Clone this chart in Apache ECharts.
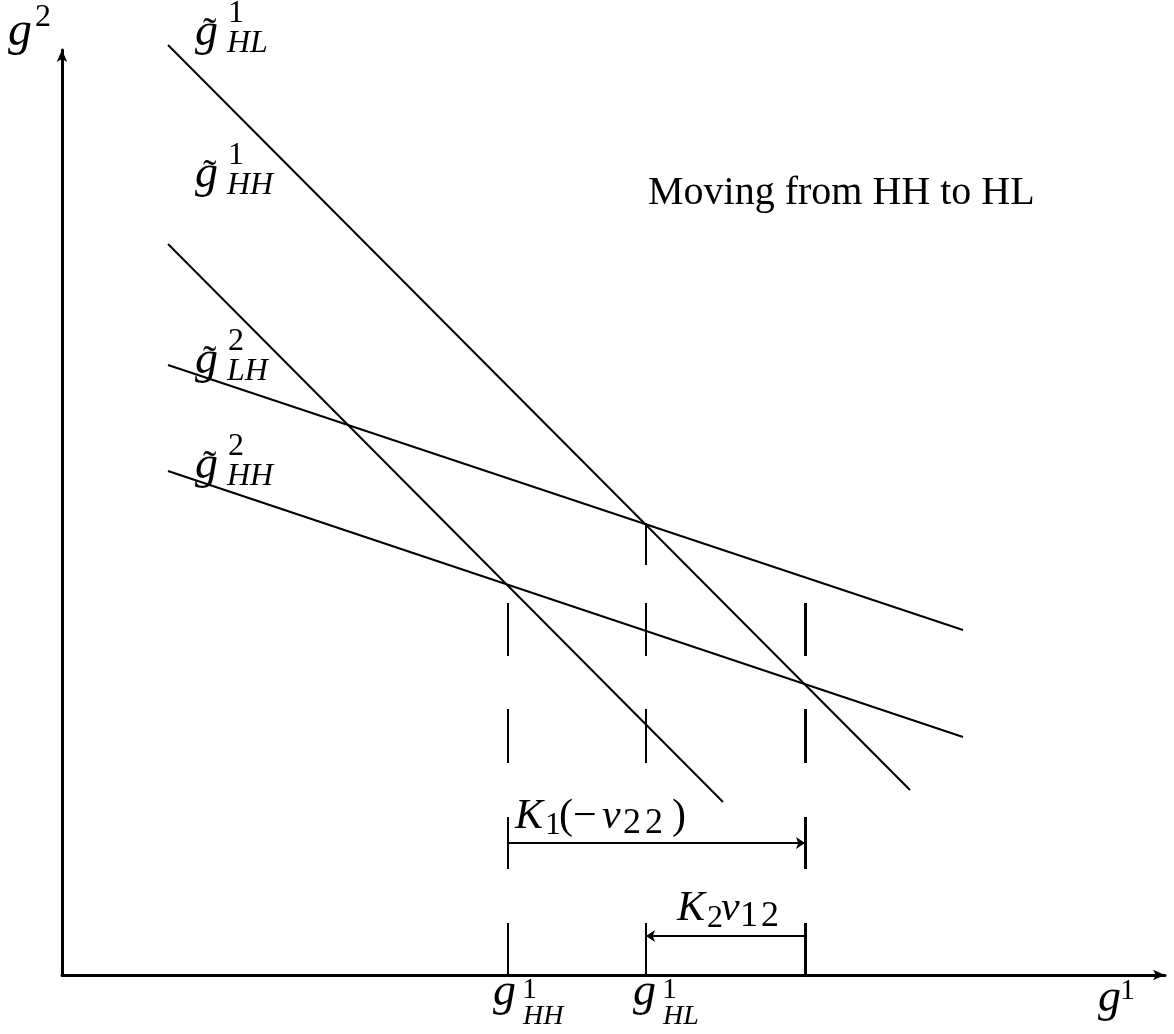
<!DOCTYPE html>
<html><head><meta charset="utf-8">
<script src="https://cdn.jsdelivr.net/npm/echarts@6/dist/echarts.min.js"></script>
<style>html,body{margin:0;padding:0;background:#fff}#c{width:1174px;height:1034px}</style>
</head><body><div id="c"></div>
<script>
// ---- data (units: g1 along x, g2 along y) ----
const curveNames = ['g~1 HL', 'g~1 HH', 'g~2 LH', 'g~2 HH'];
const curveX = [[1.06, 8.48], [1.06, 6.61], [1.06, 9.01], [1.06, 9.01]];
const curveY = [[9.30, 1.85], [7.31, 1.73], [6.10, 3.45], [5.04, 2.38]];

const guideX = [4.46, 5.84, 7.43];               // g1_HH, g1_HL, end of K1 bracket
const guideSegments = [
  [[3.72, 3.19], [2.66, 2.12], [1.58, 1.06], [0.52, 0]],
  [[4.52, 4.10], [3.72, 3.19], [2.66, 2.12], [0.52, 0]],
  [[3.72, 3.19], [2.66, 2.12], [1.58, 1.06], [0.52, 0]]
];
const arrowK1 = [[4.46, 1.32], [7.43, 1.32]];
const arrowK2 = [[7.43, 0.39], [5.84, 0.39]];

const xMax = 11.03, yMax = 9.25;

// ---- chart ----
const chart = echarts.init(document.getElementById('c'), null, {renderer: 'canvas'});
const black = '#000';
const series = [];
curveNames.forEach((n, i) => {
  series.push({
    name: n, type: 'line', clip: false, showSymbol: false, silent: true,
    data: [[curveX[i][0], curveY[i][0]], [curveX[i][1], curveY[i][1]]],
    lineStyle: {color: black, width: 2}
  });
});
const thinSegs = [], thickSegs = [];
guideX.forEach((x, i) => {
  guideSegments[i].forEach(s => {
    const seg = {coords: [[x, s[0]], [x, s[1]]]};
    if (i === 2) thickSegs.push(seg); else thinSegs.push(seg);
  });
});
series.push({type: 'lines', coordinateSystem: 'cartesian2d', silent: true, data: thinSegs,
  lineStyle: {color: black, width: 2, opacity: 1}, symbol: 'none'});
series.push({type: 'lines', coordinateSystem: 'cartesian2d', silent: true, data: thickSegs,
  lineStyle: {color: black, width: 3, opacity: 1}, symbol: 'none'});
series.push({type: 'lines', coordinateSystem: 'cartesian2d', silent: true,
  data: [{coords: arrowK1}, {coords: arrowK2}],
  lineStyle: {color: black, width: 2, opacity: 1},
  symbol: ['none', 'arrow'], symbolSize: 9});

chart.setOption({
  backgroundColor: '#fff',
  animation: false,
  grid: {left: 62, right: 1174 - 62 - 1103, top: 50, height: 925},
  xAxis: {type: 'value', min: 0, max: xMax,
    axisLine: {show: true, onZero: false, symbol: ['none', 'arrow'], symbolSize: [8, 12],
      lineStyle: {color: black, width: 3}},
    axisTick: {show: false}, axisLabel: {show: false}, splitLine: {show: false}},
  yAxis: {type: 'value', min: 0, max: yMax,
    axisLine: {show: true, onZero: false, symbol: ['none', 'arrow'], symbolSize: [8, 12],
      lineStyle: {color: black, width: 3}},
    axisTick: {show: false}, axisLabel: {show: false}, splitLine: {show: false}},
  series: series
});

// ---- text labels (anchored at data points; pieces offset in px from the baseline) ----
const FONT = '"Liberation Serif", "DejaVu Serif", serif';
function piece(t, dx, dy, size, italic) { return {t, dx, dy, size, italic}; }
const tildeLabel = (sup, sub) => [
  piece('g', 0, 0, 46, true), piece('\u02DC', 8, 0, 40, false),
  piece(sup, 33, -24, 32, false), piece(sub, 32, 6, 32, true)
];
const bottomLabel = (sub) => [
  piece('g', 0, 2, 46, true), piece('1', 29, -6, 30, false), piece(sub, 30, 20, 28, true)
];
const labels = [
  {at: [1.33, 9.28], pieces: tildeLabel('1', 'HL')},
  {at: [1.33, 7.86], pieces: tildeLabel('1', 'HH')},
  {at: [1.33, 6.00], pieces: tildeLabel('2', 'LH')},
  {at: [1.33, 4.95], pieces: tildeLabel('2', 'HH')},
  {at: [-0.54, 9.28], pieces: [piece('g', 0, 0, 48, true), piece('2', 27, -20, 32, false)]},
  {at: [10.36, -0.38], pieces: [piece('g', 0, 0, 46, true), piece('1', 22, -13, 30, false)]},
  {at: [4.31, -0.30], pieces: bottomLabel('HH')},
  {at: [5.71, -0.30], pieces: bottomLabel('HL')},
  {at: [4.53, 1.45], pieces: [piece('K', 0, 0, 42, true), piece('1', 30, 5, 32, false),
    piece('(', 44, 0, 42, false), piece('\u2212', 58, 0, 42, false), piece('v', 87, 0, 42, true),
    piece('2', 108, 5, 36, false), piece('2', 130, 5, 36, false), piece(')', 157, 0, 42, false)]},
  {at: [6.15, 0.53], pieces: [piece('K', 0, 0, 42, true), piece('2', 30, 6, 32, false),
    piece('v', 44, 0, 42, true), piece('1', 63, 6, 36, false), piece('2', 84, 6, 36, false)]},
  {at: [5.86, 7.69], pieces: [piece('Moving from HH to HL', 0, 0, 40, false)]}
];
const ASC = 0.805;   // baseline position inside the em box, from its top
const graphics = [];
labels.forEach(l => {
  const p = chart.convertToPixel({gridIndex: 0}, l.at);
  l.pieces.forEach(pc => {
    graphics.push({type: 'text', x: p[0] + pc.dx, y: p[1] + pc.dy - ASC * pc.size, silent: true,
      style: {text: pc.t, fill: black, fontFamily: FONT, fontSize: pc.size,
        fontStyle: pc.italic ? 'italic' : 'normal', verticalAlign: 'top', align: 'left'}});
  });
});
chart.setOption({graphic: graphics});
</script></body></html>
